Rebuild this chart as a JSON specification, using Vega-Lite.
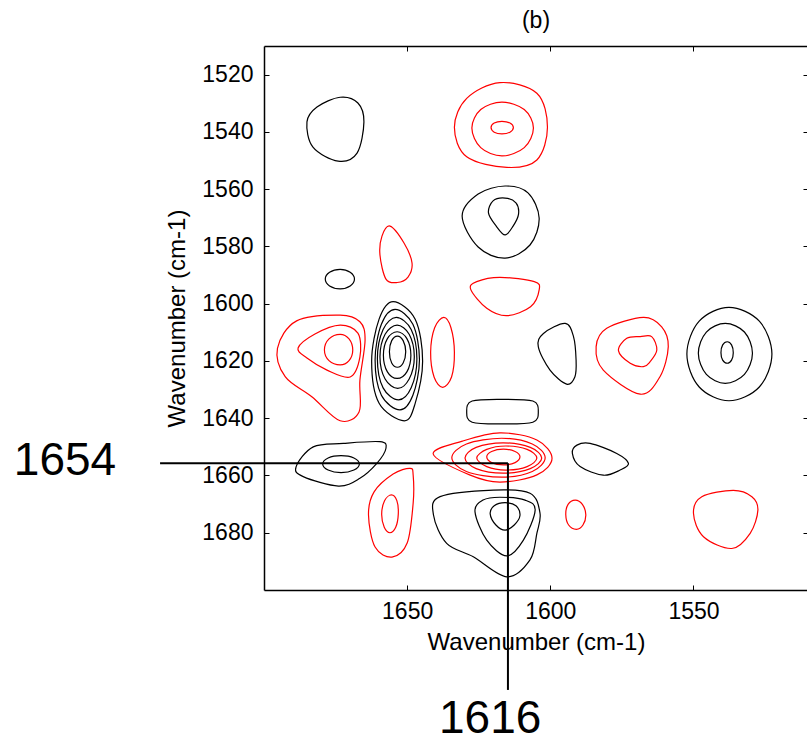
{
  "$schema": "https://vega.github.io/schema/vega-lite/v6.json",
  "width": 544,
  "height": 544,
  "autosize": "none",
  "padding": {"left": 264, "top": 46, "right": 0, "bottom": 153},
  "background": "white",
  "config": {
    "view": {"stroke": null},
    "font": "Liberation Sans",
    "axis": {
      "grid": false,
      "domainColor": "black",
      "domainWidth": 1.5,
      "tickColor": "black",
      "tickWidth": 1,
      "tickSize": -5,
      "labelFont": "Liberation Sans",
      "labelFontSize": 23,
      "labelColor": "black",
      "titleFont": "Liberation Sans",
      "titleFontSize": 24,
      "titleFontWeight": "normal",
      "titleColor": "black"
    }
  },
  "title": {"text": "(b)", "font": "Liberation Sans", "fontSize": 23, "fontWeight": "normal", "color": "black", "anchor": "middle", "baseline": "alphabetic", "offset": -5},
  "datasets": {
    "contours": [
      {"id":"b1","sign":"pos","x":1673.4,"y":1527.9},{"id":"b1","sign":"pos","x":1667.2,"y":1529.9},{"id":"b1","sign":"pos","x":1665.1,"y":1536.5},{"id":"b1","sign":"pos","x":1667.5,"y":1547.4},{"id":"b1","sign":"pos","x":1674.1,"y":1550.2},{"id":"b1","sign":"pos","x":1682.9,"y":1545.3},{"id":"b1","sign":"pos","x":1685.0,"y":1536.5},{"id":"b1","sign":"pos","x":1681.5,"y":1531.3},
      {"id":"r1","sign":"neg","x":1617.6,"y":1522.8},{"id":"r1","sign":"neg","x":1604.7,"y":1526.5},{"id":"r1","sign":"neg","x":1601.0,"y":1538.4},{"id":"r1","sign":"neg","x":1604.7,"y":1549.8},{"id":"r1","sign":"neg","x":1615.2,"y":1552.4},{"id":"r1","sign":"neg","x":1629.2,"y":1548.7},{"id":"r1","sign":"neg","x":1633.5,"y":1538.4},{"id":"r1","sign":"neg","x":1629.2,"y":1528.3},
      {"id":"r2","sign":"neg","x":1616.9,"y":1529.6},{"id":"r2","sign":"neg","x":1609.1,"y":1532.2},{"id":"r2","sign":"neg","x":1605.9,"y":1538.6},{"id":"r2","sign":"neg","x":1609.1,"y":1545.5},{"id":"r2","sign":"neg","x":1616.9,"y":1548.4},{"id":"r2","sign":"neg","x":1624.3,"y":1545.5},{"id":"r2","sign":"neg","x":1627.4,"y":1538.6},{"id":"r2","sign":"neg","x":1624.3,"y":1532.2},
      {"id":"r3","sign":"neg","x":1616.9,"y":1536.3},{"id":"r3","sign":"neg","x":1614.1,"y":1536.9},{"id":"r3","sign":"neg","x":1612.9,"y":1538.5},{"id":"r3","sign":"neg","x":1614.1,"y":1540.1},{"id":"r3","sign":"neg","x":1616.9,"y":1540.7},{"id":"r3","sign":"neg","x":1619.6,"y":1540.1},{"id":"r3","sign":"neg","x":1620.7,"y":1538.5},{"id":"r3","sign":"neg","x":1619.6,"y":1536.9},
      {"id":"b2","sign":"pos","x":1615.8,"y":1558.9},{"id":"b2","sign":"pos","x":1607.8,"y":1561.3},{"id":"b2","sign":"pos","x":1603.9,"y":1570.1},{"id":"b2","sign":"pos","x":1607.1,"y":1579.5},{"id":"b2","sign":"pos","x":1615.8,"y":1584.1},{"id":"b2","sign":"pos","x":1625.2,"y":1580.2},{"id":"b2","sign":"pos","x":1630.8,"y":1569.4},{"id":"b2","sign":"pos","x":1625.2,"y":1561.7},
      {"id":"b3","sign":"pos","x":1615.8,"y":1563.1},{"id":"b3","sign":"pos","x":1612.0,"y":1564.8},{"id":"b3","sign":"pos","x":1611.1,"y":1568.7},{"id":"b3","sign":"pos","x":1613.0,"y":1572.9},{"id":"b3","sign":"pos","x":1615.8,"y":1576.0},{"id":"b3","sign":"pos","x":1618.9,"y":1572.9},{"id":"b3","sign":"pos","x":1621.6,"y":1568.3},{"id":"b3","sign":"pos","x":1620.0,"y":1564.1},
      {"id":"r4","sign":"neg","x":1656.0,"y":1572.9},{"id":"r4","sign":"neg","x":1651.1,"y":1578.8},{"id":"r4","sign":"neg","x":1648.3,"y":1585.8},{"id":"r4","sign":"neg","x":1649.7,"y":1590.7},{"id":"r4","sign":"neg","x":1653.5,"y":1592.6},{"id":"r4","sign":"neg","x":1657.4,"y":1591.4},{"id":"r4","sign":"neg","x":1659.5,"y":1583.0},{"id":"r4","sign":"neg","x":1658.8,"y":1576.4},
      {"id":"b4","sign":"pos","x":1673.4,"y":1588.0},{"id":"b4","sign":"pos","x":1669.9,"y":1589.0},{"id":"b4","sign":"pos","x":1668.4,"y":1591.4},{"id":"b4","sign":"pos","x":1669.9,"y":1593.8},{"id":"b4","sign":"pos","x":1673.4,"y":1594.8},{"id":"b4","sign":"pos","x":1677.1,"y":1593.8},{"id":"b4","sign":"pos","x":1678.6,"y":1591.4},{"id":"b4","sign":"pos","x":1677.1,"y":1589.0},
      {"id":"r5","sign":"neg","x":1617.6,"y":1590.8},{"id":"r5","sign":"neg","x":1605.6,"y":1592.3},{"id":"r5","sign":"neg","x":1603.9,"y":1595.2},{"id":"r5","sign":"neg","x":1606.9,"y":1601.1},{"id":"r5","sign":"neg","x":1615.2,"y":1604.2},{"id":"r5","sign":"neg","x":1622.2,"y":1601.6},{"id":"r5","sign":"neg","x":1627.8,"y":1595.0},{"id":"r5","sign":"neg","x":1625.7,"y":1592.3},
      {"id":"r6","sign":"neg","x":1673.4,"y":1604.0},{"id":"r6","sign":"neg","x":1666.5,"y":1606.3},{"id":"r6","sign":"neg","x":1664.7,"y":1612.7},{"id":"r6","sign":"neg","x":1666.5,"y":1626.7},{"id":"r6","sign":"neg","x":1666.8,"y":1637.8},{"id":"r6","sign":"neg","x":1673.4,"y":1640.9},{"id":"r6","sign":"neg","x":1683.3,"y":1632.5},{"id":"r6","sign":"neg","x":1692.6,"y":1625.5},{"id":"r6","sign":"neg","x":1695.3,"y":1615.6},{"id":"r6","sign":"neg","x":1688.6,"y":1606.0},
      {"id":"r7","sign":"neg","x":1673.4,"y":1607.5},{"id":"r7","sign":"neg","x":1667.2,"y":1610.3},{"id":"r7","sign":"neg","x":1666.5,"y":1618.6},{"id":"r7","sign":"neg","x":1669.9,"y":1625.6},{"id":"r7","sign":"neg","x":1678.0,"y":1623.2},{"id":"r7","sign":"neg","x":1685.0,"y":1619.0},{"id":"r7","sign":"neg","x":1688.1,"y":1615.5},{"id":"r7","sign":"neg","x":1682.2,"y":1610.6},
      {"id":"r8","sign":"neg","x":1673.4,"y":1610.7},{"id":"r8","sign":"neg","x":1670.3,"y":1612.3},{"id":"r8","sign":"neg","x":1669.0,"y":1616.2},{"id":"r8","sign":"neg","x":1670.3,"y":1619.9},{"id":"r8","sign":"neg","x":1673.4,"y":1621.4},{"id":"r8","sign":"neg","x":1677.3,"y":1619.9},{"id":"r8","sign":"neg","x":1678.9,"y":1616.2},{"id":"r8","sign":"neg","x":1677.3,"y":1612.3},
      {"id":"c1","sign":"pos","x":1654.9,"y":1599.3},{"id":"c1","sign":"pos","x":1647.2,"y":1605.4},{"id":"c1","sign":"pos","x":1644.6,"y":1620.1},{"id":"c1","sign":"pos","x":1647.2,"y":1634.8},{"id":"c1","sign":"pos","x":1651.0,"y":1640.9},{"id":"c1","sign":"pos","x":1659.8,"y":1634.8},{"id":"c1","sign":"pos","x":1662.4,"y":1620.1},{"id":"c1","sign":"pos","x":1659.8,"y":1605.4},
      {"id":"c2","sign":"pos","x":1654.2,"y":1602.0},{"id":"c2","sign":"pos","x":1648.0,"y":1607.2},{"id":"c2","sign":"pos","x":1645.7,"y":1619.6},{"id":"c2","sign":"pos","x":1648.0,"y":1632.0},{"id":"c2","sign":"pos","x":1652.5,"y":1637.1},{"id":"c2","sign":"pos","x":1659.0,"y":1632.0},{"id":"c2","sign":"pos","x":1661.2,"y":1619.6},{"id":"c2","sign":"pos","x":1659.0,"y":1607.2},
      {"id":"c3","sign":"pos","x":1653.8,"y":1604.8},{"id":"c3","sign":"pos","x":1648.6,"y":1609.0},{"id":"c3","sign":"pos","x":1646.6,"y":1619.2},{"id":"c3","sign":"pos","x":1648.6,"y":1629.4},{"id":"c3","sign":"pos","x":1653.0,"y":1633.6},{"id":"c3","sign":"pos","x":1658.4,"y":1629.4},{"id":"c3","sign":"pos","x":1660.4,"y":1619.2},{"id":"c3","sign":"pos","x":1658.4,"y":1609.0},
      {"id":"c4","sign":"pos","x":1653.5,"y":1607.5},{"id":"c4","sign":"pos","x":1649.3,"y":1610.7},{"id":"c4","sign":"pos","x":1647.5,"y":1618.5},{"id":"c4","sign":"pos","x":1649.3,"y":1626.3},{"id":"c4","sign":"pos","x":1653.3,"y":1629.6},{"id":"c4","sign":"pos","x":1657.7,"y":1626.3},{"id":"c4","sign":"pos","x":1659.5,"y":1618.5},{"id":"c4","sign":"pos","x":1657.7,"y":1610.7},
      {"id":"c5","sign":"pos","x":1653.5,"y":1609.8},{"id":"c5","sign":"pos","x":1650.1,"y":1612.2},{"id":"c5","sign":"pos","x":1648.7,"y":1618.0},{"id":"c5","sign":"pos","x":1650.1,"y":1623.8},{"id":"c5","sign":"pos","x":1653.5,"y":1626.1},{"id":"c5","sign":"pos","x":1656.9,"y":1623.8},{"id":"c5","sign":"pos","x":1658.3,"y":1618.0},{"id":"c5","sign":"pos","x":1656.9,"y":1612.2},
      {"id":"c6","sign":"pos","x":1653.4,"y":1611.3},{"id":"c6","sign":"pos","x":1651.4,"y":1612.9},{"id":"c6","sign":"pos","x":1650.5,"y":1616.8},{"id":"c6","sign":"pos","x":1651.4,"y":1620.7},{"id":"c6","sign":"pos","x":1653.4,"y":1622.2},{"id":"c6","sign":"pos","x":1655.4,"y":1620.7},{"id":"c6","sign":"pos","x":1656.2,"y":1616.8},{"id":"c6","sign":"pos","x":1655.4,"y":1612.9},
      {"id":"r9","sign":"neg","x":1637.2,"y":1604.8},{"id":"r9","sign":"neg","x":1634.7,"y":1608.4},{"id":"r9","sign":"neg","x":1633.5,"y":1617.0},{"id":"r9","sign":"neg","x":1634.5,"y":1625.6},{"id":"r9","sign":"neg","x":1637.6,"y":1629.2},{"id":"r9","sign":"neg","x":1640.6,"y":1625.6},{"id":"r9","sign":"neg","x":1641.8,"y":1617.0},{"id":"r9","sign":"neg","x":1640.4,"y":1608.4},
      {"id":"b11","sign":"pos","x":1594.8,"y":1606.9},{"id":"b11","sign":"pos","x":1591.9,"y":1611.5},{"id":"b11","sign":"pos","x":1591.0,"y":1619.7},{"id":"b11","sign":"pos","x":1591.4,"y":1625.5},{"id":"b11","sign":"pos","x":1594.3,"y":1628.1},{"id":"b11","sign":"pos","x":1600.1,"y":1623.2},{"id":"b11","sign":"pos","x":1604.2,"y":1615.0},{"id":"b11","sign":"pos","x":1602.4,"y":1610.4},
      {"id":"r10","sign":"neg","x":1567.5,"y":1604.8},{"id":"r10","sign":"neg","x":1561.1,"y":1608.1},{"id":"r10","sign":"neg","x":1558.8,"y":1615.0},{"id":"r10","sign":"neg","x":1561.7,"y":1625.5},{"id":"r10","sign":"neg","x":1568.6,"y":1631.6},{"id":"r10","sign":"neg","x":1581.5,"y":1623.2},{"id":"r10","sign":"neg","x":1584.0,"y":1615.0},{"id":"r10","sign":"neg","x":1580.3,"y":1608.6},
      {"id":"r11","sign":"neg","x":1568.6,"y":1611.5},{"id":"r11","sign":"neg","x":1564.6,"y":1611.5},{"id":"r11","sign":"neg","x":1562.8,"y":1616.2},{"id":"r11","sign":"neg","x":1565.2,"y":1620.3},{"id":"r11","sign":"neg","x":1567.5,"y":1622.0},{"id":"r11","sign":"neg","x":1572.1,"y":1620.8},{"id":"r11","sign":"neg","x":1576.2,"y":1616.4},{"id":"r11","sign":"neg","x":1573.3,"y":1612.1},
      {"id":"b12","sign":"pos","x":1537.6,"y":1601.3},{"id":"b12","sign":"pos","x":1527.0,"y":1606.1},{"id":"b12","sign":"pos","x":1522.6,"y":1617.6},{"id":"b12","sign":"pos","x":1527.0,"y":1629.1},{"id":"b12","sign":"pos","x":1537.6,"y":1633.9},{"id":"b12","sign":"pos","x":1548.0,"y":1629.1},{"id":"b12","sign":"pos","x":1552.3,"y":1617.6},{"id":"b12","sign":"pos","x":1548.0,"y":1606.1},
      {"id":"b13","sign":"pos","x":1538.9,"y":1606.9},{"id":"b13","sign":"pos","x":1532.2,"y":1609.9},{"id":"b13","sign":"pos","x":1529.4,"y":1617.3},{"id":"b13","sign":"pos","x":1532.2,"y":1624.7},{"id":"b13","sign":"pos","x":1538.9,"y":1627.8},{"id":"b13","sign":"pos","x":1545.5,"y":1624.7},{"id":"b13","sign":"pos","x":1548.3,"y":1617.3},{"id":"b13","sign":"pos","x":1545.5,"y":1609.9},
      {"id":"b14","sign":"pos","x":1538.2,"y":1613.3},{"id":"b14","sign":"pos","x":1536.7,"y":1614.4},{"id":"b14","sign":"pos","x":1536.1,"y":1617.1},{"id":"b14","sign":"pos","x":1536.7,"y":1619.7},{"id":"b14","sign":"pos","x":1538.2,"y":1620.8},{"id":"b14","sign":"pos","x":1539.8,"y":1619.7},{"id":"b14","sign":"pos","x":1540.4,"y":1617.1},{"id":"b14","sign":"pos","x":1539.8,"y":1614.4},
      {"id":"b15","sign":"pos","x":1616.7,"y":1633.4},{"id":"b15","sign":"pos","x":1606.1,"y":1634.0},{"id":"b15","sign":"pos","x":1604.2,"y":1637.7},{"id":"b15","sign":"pos","x":1606.1,"y":1641.4},{"id":"b15","sign":"pos","x":1616.7,"y":1642.0},{"id":"b15","sign":"pos","x":1627.3,"y":1641.4},{"id":"b15","sign":"pos","x":1629.2,"y":1637.7},{"id":"b15","sign":"pos","x":1627.3,"y":1634.0},
      {"id":"b16","sign":"pos","x":1672.3,"y":1648.8},{"id":"b16","sign":"pos","x":1659.5,"y":1648.2},{"id":"b16","sign":"pos","x":1657.4,"y":1650.5},{"id":"b16","sign":"pos","x":1660.6,"y":1655.8},{"id":"b16","sign":"pos","x":1666.5,"y":1661.0},{"id":"b16","sign":"pos","x":1674.0,"y":1663.7},{"id":"b16","sign":"pos","x":1686.3,"y":1660.4},{"id":"b16","sign":"pos","x":1688.8,"y":1657.0},{"id":"b16","sign":"pos","x":1682.8,"y":1650.0},
      {"id":"b17","sign":"pos","x":1673.1,"y":1653.1},{"id":"b17","sign":"pos","x":1668.6,"y":1653.9},{"id":"b17","sign":"pos","x":1666.7,"y":1656.0},{"id":"b17","sign":"pos","x":1668.6,"y":1658.1},{"id":"b17","sign":"pos","x":1673.1,"y":1659.0},{"id":"b17","sign":"pos","x":1677.6,"y":1658.1},{"id":"b17","sign":"pos","x":1679.5,"y":1656.0},{"id":"b17","sign":"pos","x":1677.6,"y":1653.9},
      {"id":"r12","sign":"neg","x":1617.6,"y":1645.1},{"id":"r12","sign":"neg","x":1604.7,"y":1647.6},{"id":"r12","sign":"neg","x":1599.4,"y":1654.0},{"id":"r12","sign":"neg","x":1604.7,"y":1659.8},{"id":"r12","sign":"neg","x":1617.6,"y":1662.3},{"id":"r12","sign":"neg","x":1628.2,"y":1659.8},{"id":"r12","sign":"neg","x":1640.9,"y":1652.5},{"id":"r12","sign":"neg","x":1630.7,"y":1648.0},
      {"id":"r13","sign":"neg","x":1617.0,"y":1647.0},{"id":"r13","sign":"neg","x":1606.3,"y":1649.0},{"id":"r13","sign":"neg","x":1601.8,"y":1653.8},{"id":"r13","sign":"neg","x":1606.3,"y":1658.6},{"id":"r13","sign":"neg","x":1617.0,"y":1660.6},{"id":"r13","sign":"neg","x":1629.3,"y":1658.6},{"id":"r13","sign":"neg","x":1634.4,"y":1653.8},{"id":"r13","sign":"neg","x":1629.3,"y":1649.0},
      {"id":"r14","sign":"neg","x":1616.5,"y":1648.6},{"id":"r14","sign":"neg","x":1607.0,"y":1650.2},{"id":"r14","sign":"neg","x":1603.0,"y":1653.9},{"id":"r14","sign":"neg","x":1607.0,"y":1657.6},{"id":"r14","sign":"neg","x":1616.5,"y":1659.2},{"id":"r14","sign":"neg","x":1625.9,"y":1657.6},{"id":"r14","sign":"neg","x":1629.8,"y":1653.9},{"id":"r14","sign":"neg","x":1625.9,"y":1650.2},
      {"id":"r15","sign":"neg","x":1615.5,"y":1649.7},{"id":"r15","sign":"neg","x":1608.1,"y":1650.9},{"id":"r15","sign":"neg","x":1604.7,"y":1653.9},{"id":"r15","sign":"neg","x":1608.1,"y":1656.9},{"id":"r15","sign":"neg","x":1615.5,"y":1658.1},{"id":"r15","sign":"neg","x":1622.2,"y":1656.9},{"id":"r15","sign":"neg","x":1625.7,"y":1653.9},{"id":"r15","sign":"neg","x":1622.2,"y":1650.9},
      {"id":"r16","sign":"neg","x":1616.4,"y":1650.8},{"id":"r16","sign":"neg","x":1612.3,"y":1651.6},{"id":"r16","sign":"neg","x":1610.6,"y":1653.5},{"id":"r16","sign":"neg","x":1612.3,"y":1655.5},{"id":"r16","sign":"neg","x":1616.4,"y":1656.3},{"id":"r16","sign":"neg","x":1620.5,"y":1655.5},{"id":"r16","sign":"neg","x":1622.2,"y":1653.5},{"id":"r16","sign":"neg","x":1620.5,"y":1651.6},
      {"id":"r17","sign":"neg","x":1649.0,"y":1657.5},{"id":"r17","sign":"neg","x":1647.9,"y":1659.9},{"id":"r17","sign":"neg","x":1647.9,"y":1669.6},{"id":"r17","sign":"neg","x":1650.0,"y":1683.6},{"id":"r17","sign":"neg","x":1655.3,"y":1688.5},{"id":"r17","sign":"neg","x":1661.2,"y":1685.0},{"id":"r17","sign":"neg","x":1663.5,"y":1673.8},{"id":"r17","sign":"neg","x":1661.6,"y":1665.8},{"id":"r17","sign":"neg","x":1654.9,"y":1659.5},
      {"id":"r18","sign":"neg","x":1655.5,"y":1666.8},{"id":"r18","sign":"neg","x":1653.6,"y":1668.8},{"id":"r18","sign":"neg","x":1653.1,"y":1673.5},{"id":"r18","sign":"neg","x":1654.0,"y":1678.1},{"id":"r18","sign":"neg","x":1656.0,"y":1680.0},{"id":"r18","sign":"neg","x":1658.0,"y":1678.1},{"id":"r18","sign":"neg","x":1658.9,"y":1673.5},{"id":"r18","sign":"neg","x":1657.9,"y":1668.8},
      {"id":"b18","sign":"pos","x":1619.9,"y":1665.1},{"id":"b18","sign":"pos","x":1607.1,"y":1666.2},{"id":"b18","sign":"pos","x":1603.6,"y":1673.2},{"id":"b18","sign":"pos","x":1604.7,"y":1680.2},{"id":"b18","sign":"pos","x":1607.1,"y":1689.5},{"id":"b18","sign":"pos","x":1615.2,"y":1695.4},{"id":"b18","sign":"pos","x":1626.9,"y":1688.4},{"id":"b18","sign":"pos","x":1636.2,"y":1683.7},{"id":"b18","sign":"pos","x":1640.8,"y":1673.8},{"id":"b18","sign":"pos","x":1638.5,"y":1667.4},
      {"id":"b19","sign":"pos","x":1617.6,"y":1667.6},{"id":"b19","sign":"pos","x":1608.8,"y":1668.6},{"id":"b19","sign":"pos","x":1605.3,"y":1672.1},{"id":"b19","sign":"pos","x":1609.4,"y":1682.6},{"id":"b19","sign":"pos","x":1615.2,"y":1688.1},{"id":"b19","sign":"pos","x":1622.2,"y":1682.6},{"id":"b19","sign":"pos","x":1626.3,"y":1672.7},{"id":"b19","sign":"pos","x":1623.5,"y":1668.6},
      {"id":"b20","sign":"pos","x":1615.8,"y":1669.5},{"id":"b20","sign":"pos","x":1612.0,"y":1670.6},{"id":"b20","sign":"pos","x":1610.6,"y":1674.0},{"id":"b20","sign":"pos","x":1612.6,"y":1677.3},{"id":"b20","sign":"pos","x":1615.8,"y":1679.1},{"id":"b20","sign":"pos","x":1619.0,"y":1677.3},{"id":"b20","sign":"pos","x":1621.0,"y":1673.4},{"id":"b20","sign":"pos","x":1619.6,"y":1670.6},
      {"id":"b21","sign":"pos","x":1586.1,"y":1648.8},{"id":"b21","sign":"pos","x":1576.8,"y":1652.3},{"id":"b21","sign":"pos","x":1572.7,"y":1655.8},{"id":"b21","sign":"pos","x":1575.6,"y":1658.1},{"id":"b21","sign":"pos","x":1581.5,"y":1659.9},{"id":"b21","sign":"pos","x":1589.6,"y":1656.9},{"id":"b21","sign":"pos","x":1592.3,"y":1652.3},{"id":"b21","sign":"pos","x":1590.7,"y":1649.4},
      {"id":"r19","sign":"neg","x":1591.3,"y":1668.6},{"id":"r19","sign":"neg","x":1588.8,"y":1670.1},{"id":"r19","sign":"neg","x":1587.6,"y":1673.7},{"id":"r19","sign":"neg","x":1588.6,"y":1677.3},{"id":"r19","sign":"neg","x":1590.9,"y":1678.8},{"id":"r19","sign":"neg","x":1593.6,"y":1677.3},{"id":"r19","sign":"neg","x":1594.6,"y":1673.7},{"id":"r19","sign":"neg","x":1593.8,"y":1670.1},
      {"id":"r20","sign":"neg","x":1536.1,"y":1665.2},{"id":"r20","sign":"neg","x":1529.6,"y":1667.4},{"id":"r20","sign":"neg","x":1527.5,"y":1672.1},{"id":"r20","sign":"neg","x":1530.2,"y":1680.2},{"id":"r20","sign":"neg","x":1536.6,"y":1685.5},{"id":"r20","sign":"neg","x":1546.5,"y":1681.4},{"id":"r20","sign":"neg","x":1550.0,"y":1673.2},{"id":"r20","sign":"neg","x":1547.1,"y":1667.4}
    ],
    "guides": [
      {"x": 1736.3, "x2": 1614.8, "y": 1655.7, "y2": 1655.7},
      {"x": 1614.8, "x2": 1614.8, "y": 1655.7, "y2": 1734.9}
    ],
    "labels": [
      {"label": "1654", "x": 1769.5, "y": 1659.9},
      {"label": "1616", "x": 1621.0, "y": 1750.0}
    ]
  },
  "layer": [
    {
      "data": {"name": "contours"},
      "mark": {"type": "line", "interpolate": "cardinal-closed", "strokeWidth": 1.2},
      "encoding": {
        "x": {"field": "x", "type": "quantitative",
              "scale": {"domain": [1510, 1700], "reverse": true, "nice": false, "zero": false},
              "axis": {"orient": "bottom", "values": [1650, 1600, 1550], "format": "d", "title": "Wavenumber (cm-1)", "labelPadding": 15, "titlePadding": 7}},
        "y": {"field": "y", "type": "quantitative",
              "scale": {"domain": [1510, 1700], "reverse": true, "nice": false, "zero": false},
              "axis": {"orient": "left", "values": [1520, 1540, 1560, 1580, 1600, 1620, 1640, 1660, 1680], "format": "d", "title": "Wavenumber (cm-1)", "labelPadding": 16, "titlePadding": 12}},
        "detail": {"field": "id"},
        "color": {"field": "sign", "type": "nominal", "scale": {"domain": ["pos", "neg"], "range": ["#000000", "#ff0000"]}, "legend": null},
        "order": {"value": null}
      }
    },
    {
      "data": {"name": "guides"},
      "mark": {"type": "rule", "strokeWidth": 2, "color": "black"},
      "encoding": {
        "x": {"field": "x", "type": "quantitative",
              "scale": {"domain": [1510, 1700], "reverse": true, "nice": false, "zero": false},
              "axis": {"orient": "top", "values": [1650, 1600, 1550], "labels": false, "title": null}},
        "x2": {"field": "x2"},
        "y": {"field": "y", "type": "quantitative",
              "scale": {"domain": [1510, 1700], "reverse": true, "nice": false, "zero": false},
              "axis": {"orient": "right", "values": [1520, 1540, 1560, 1580, 1600, 1620, 1640, 1660, 1680], "labels": false, "title": null}},
        "y2": {"field": "y2"}
      }
    },
    {
      "data": {"name": "labels"},
      "mark": {"type": "text", "font": "Liberation Sans", "fontSize": 46, "align": "center", "baseline": "alphabetic", "color": "black"},
      "encoding": {
        "x": {"field": "x", "type": "quantitative", "axis": null},
        "y": {"field": "y", "type": "quantitative", "axis": null},
        "text": {"field": "label"}
      }
    }
  ],
  "resolve": {"axis": {"x": "independent", "y": "independent"}}
}
